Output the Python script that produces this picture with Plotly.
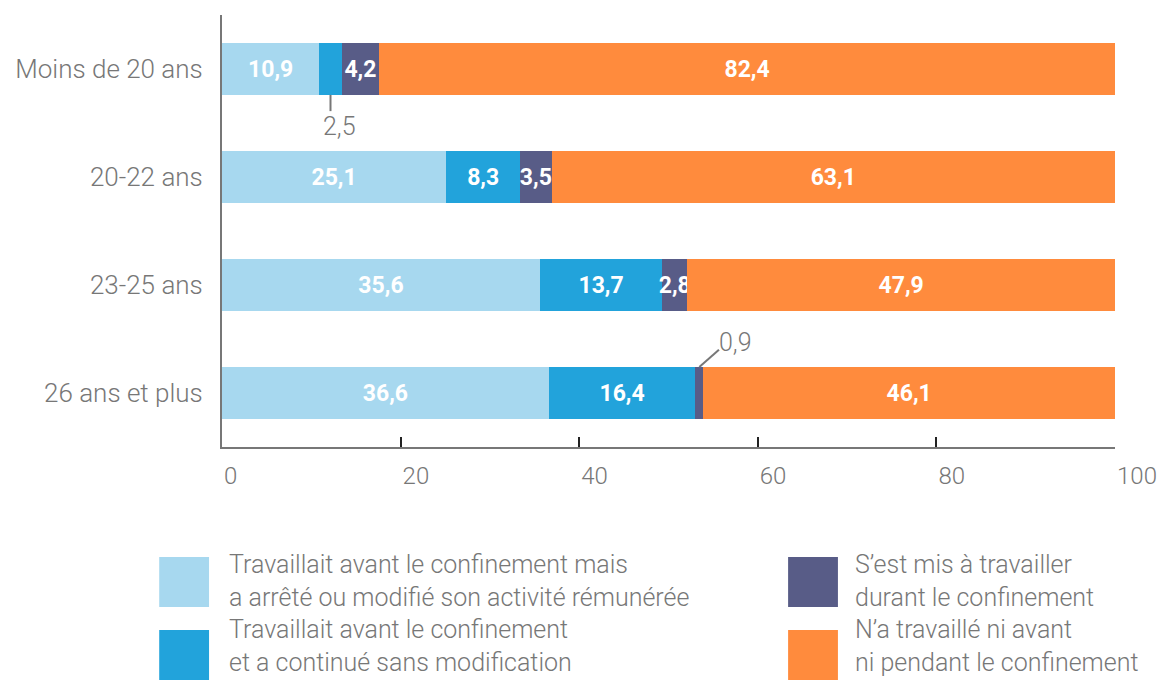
import plotly.graph_objects as go

categories = ["Moins de 20 ans", "20-22 ans", "23-25 ans", "26 ans et plus"]
series_names = [
    "Travaillait avant le confinement mais<br>a arrêté ou modifié son activité rémunérée",
    "Travaillait avant le confinement<br>et a continué sans modification",
    "S’est mis à travailler<br>durant le confinement",
    "N’a travaillé ni avant<br>ni pendant le confinement",
]
arrete = [10.9, 25.1, 35.6, 36.6]
continue_ = [2.5, 8.3, 13.7, 16.4]
mis_a_travailler = [4.2, 3.5, 2.8, 0.9]
ni_avant = [82.4, 63.1, 47.9, 46.1]
series = [arrete, continue_, mis_a_travailler, ni_avant]
colors = ["#A7D8EF", "#22A3DB", "#585C87", "#FF8B3D"]
x_ticks = [0, 20, 40, 60, 80, 100]

FONT = "Roboto, sans-serif"
GRAY = "#777777"

def fmt(v):
    return f"{v:.1f}".replace(".", ",")

fig = go.Figure()
for name, vals, col in zip(series_names, series, colors):
    texts = [fmt(v) if v >= 2.7 else "" for v in vals]
    fig.add_trace(go.Bar(
        y=categories, x=vals, orientation="h", name=name.replace("<br>", " "),
        marker=dict(color=col, line=dict(width=0)),
        width=0.48,
        text=texts, textposition="inside", insidetextanchor="middle",
        textangle=0, constraintext="none",
        textfont=dict(color="white", size=23, family=FONT, weight="bold"),
        hoverinfo="skip", showlegend=False,
    ))

# outside labels for small segments
for i, cat in enumerate(categories):
    for s_idx, vals in enumerate(series):
        v = vals[i]
        if v < 2.7:
            start = sum(series[k][i] for k in range(s_idx))
            mid = start + v / 2
            if i == 0:
                fig.add_shape(type="line", xref="x", yref="y",
                              x0=mid, x1=mid, y0=i + 0.24, y1=i + 0.39,
                              line=dict(color=GRAY, width=2))
                fig.add_annotation(x=mid, y=i + 0.53, xref="x", yref="y",
                                   text=fmt(v), showarrow=False,
                                   xanchor="left", xshift=-10,
                                   font=dict(size=25, color=GRAY, family=FONT, weight=300))
            else:
                fig.add_shape(type="line", xref="x", yref="y",
                              x0=mid, x1=mid + 2.2, y0=i - 0.24, y1=i - 0.40,
                              line=dict(color=GRAY, width=2))
                fig.add_annotation(x=mid + 2.2, y=i - 0.47, xref="x", yref="y",
                                   text=fmt(v), showarrow=False,
                                   xanchor="left", xshift=-2,
                                   font=dict(size=25, color=GRAY, family=FONT, weight=300))

fig.update_layout(
    barmode="stack",
    width=1170, height=682,
    margin=dict(l=211, r=63, t=7, b=243),
    paper_bgcolor="white", plot_bgcolor="white",
    font=dict(family=FONT, color=GRAY, size=25, weight=300),
    uniformtext=dict(minsize=23, mode="show"),
    xaxis=dict(
        range=[0, 100], tickvals=x_ticks, ticktext=[str(t) for t in x_ticks],
        showgrid=False, zeroline=False,
        showline=True, linecolor=GRAY, linewidth=2,
        ticks="inside", ticklen=10, tickwidth=2, tickcolor="#222222",
        ticklabelposition="outside right", ticklabelstandoff=6,
        tickfont=dict(size=24, color=GRAY, family=FONT, weight=300),
        fixedrange=True,
    ),
    yaxis=dict(
        categoryorder="array", categoryarray=categories,
        range=[3.5, -0.5],
        showgrid=False, zeroline=False,
        showline=True, linecolor=GRAY, linewidth=2,
        ticks="", ticklabelstandoff=12,
        tickfont=dict(size=26, color=GRAY, family=FONT, weight=300),
        fixedrange=True,
    ),
)

# custom legend (positions in page pixels, converted to paper coords)
OFF = 8
L, T, B, R = 211, 7, 439, 1107
W, H = R - L, B - T
def px2x(px):
    return (px - OFF - L) / W
def px2y(py):
    return (B - (py - OFF)) / H

legend_pos = [(156, 557, 224, 24), (156, 630, 224, 16), (787, 557, 852, 24), (787, 630, 852, 16)]
for (sx, sy, tx, dy), name, col in zip(legend_pos, series_names, colors):
    fig.add_shape(type="rect", xref="paper", yref="paper",
                  x0=px2x(sx), x1=px2x(sx + 50), y0=px2y(sy), y1=px2y(sy + 50),
                  fillcolor=col, line=dict(width=0))
    fig.add_annotation(xref="paper", yref="paper", x=px2x(tx), y=px2y(sy + dy),
                       text=name, showarrow=False, xanchor="left", yanchor="middle",
                       align="left",
                       font=dict(size=25, color=GRAY, family=FONT, weight=300))

fig.write_html("out.html")
